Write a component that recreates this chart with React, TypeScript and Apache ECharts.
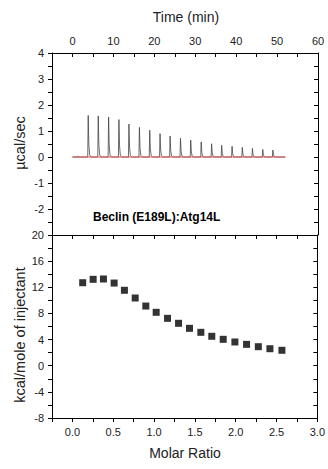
import React, { useEffect, useRef } from 'react';
import * as echarts from 'echarts';

// Raw ITC thermogram (top panel)
const injectionTimes = [1.3, 3.85, 6.3, 8.83, 11.35, 13.8, 16.36, 18.88, 21.4, 23.86, 26.4, 28.9, 31.46, 34.0, 36.46, 39.0, 41.5, 43.97, 46.5, 48.97];
const peakHeights = [0.03, 1.6, 1.58, 1.54, 1.44, 1.27, 1.14, 1.03, 0.9, 0.81, 0.72, 0.65, 0.58, 0.51, 0.45, 0.41, 0.37, 0.33, 0.29, 0.27];
// peak profile: [time offset (min), fraction of peak height]
const peakShape = [[-0.12, 0], [0, 1], [0.15, 0.3], [0.35, 0.05], [0.7, 0]];
const traceRange = [0, 52];
const baselineRange = [0, 52];

// Integrated heats (bottom panel)
const molarRatio = [0.126, 0.254, 0.38, 0.511, 0.637, 0.769, 0.899, 1.026, 1.165, 1.3, 1.434, 1.573, 1.707, 1.847, 1.99, 2.133, 2.277, 2.419, 2.566];
const enthalpy = [12.7, 13.22, 13.27, 12.65, 11.54, 10.36, 9.13, 8.17, 7.25, 6.49, 5.72, 5.11, 4.5, 4.04, 3.63, 3.27, 2.91, 2.6, 2.36];

const sampleLabel = 'Beclin (E189L):Atg14L';

const FONT = 'Liberation Sans, Arial, sans-serif';
const TXT = '#222';

export default function App() {
  const ref = useRef<HTMLDivElement>(null);
  useEffect(() => {
    if (!ref.current) return;
    const chart = echarts.init(ref.current, undefined, { renderer: 'svg' });

    const trace: number[][] = [[traceRange[0], 0]];
    injectionTimes.forEach((t, i) => {
      peakShape.forEach(([dt, f]) => trace.push([t + dt, peakHeights[i] * f]));
    });
    trace.push([traceRange[1], 0]);

    const axisLine = { show: true, onZero: false, lineStyle: { color: '#000', width: 1 } };
    const label = { color: TXT, fontFamily: FONT, fontSize: 11 };

    const option: any = {
      animation: false,
      backgroundColor: '#fff',
      grid: [
        { left: 52, right: 10, top: 53, height: 182 },
        { left: 52, right: 10, top: 235, height: 183 },
      ],
      xAxis: [
        {
          type: 'value', gridIndex: 0, position: 'top', min: -5, max: 60, interval: 5,
          axisLine, splitLine: { show: false },
          axisTick: { show: true, inside: true, length: 4, lineStyle: { color: '#000' } },
          axisLabel: { ...label, margin: 7, formatter: (v: number) => (v % 10 === 0 && v >= 0 ? String(v) : '') },
        },
        {
          type: 'value', gridIndex: 1, position: 'top', min: -0.25, max: 3, interval: 0.25,
          axisLine, splitLine: { show: false },
          axisTick: { show: true, inside: true, length: 4, lineStyle: { color: '#000' } },
          axisLabel: { show: false },
        },
        {
          type: 'value', gridIndex: 1, position: 'bottom', min: -0.25, max: 3, interval: 0.25,
          axisLine, splitLine: { show: false },
          axisTick: { show: true, inside: false, length: 4, lineStyle: { color: '#000' } },
          axisLabel: {
            ...label, margin: 8,
            formatter: (v: number) => (v >= 0 && Math.abs(v * 2 - Math.round(v * 2)) < 1e-6 ? v.toFixed(1) : ''),
          },
        },
      ],
      yAxis: [
        {
          type: 'value', gridIndex: 0, position: 'left', min: -3, max: 4, interval: 0.5,
          axisLine, splitLine: { show: false },
          axisTick: { show: true, inside: false, length: 4, lineStyle: { color: '#000' } },
          axisLabel: { ...label, margin: 8, formatter: (v: number) => (Number.isInteger(v) && v > -3 ? String(v) : '') },
        },
        {
          type: 'value', gridIndex: 0, position: 'right', min: -3, max: 4, interval: 0.5,
          axisLine, splitLine: { show: false },
          axisTick: { show: true, inside: true, length: 4, lineStyle: { color: '#000' } },
          axisLabel: { show: false },
        },
        {
          type: 'value', gridIndex: 1, position: 'left', min: -8, max: 20, interval: 2,
          axisLine, splitLine: { show: false },
          axisTick: { show: true, inside: false, length: 4, lineStyle: { color: '#000' } },
          axisLabel: { ...label, margin: 8, formatter: (v: number) => (v % 4 === 0 ? String(v) : '') },
        },
        {
          type: 'value', gridIndex: 1, position: 'right', min: -8, max: 20, interval: 2,
          axisLine, splitLine: { show: false },
          axisTick: { show: true, inside: true, length: 4, lineStyle: { color: '#000' } },
          axisLabel: { show: false },
        },
      ],
      series: [
        {
          type: 'line', xAxisIndex: 0, yAxisIndex: 0, data: trace, showSymbol: false, symbol: 'none',
          lineStyle: { color: '#444', width: 0.8 }, silent: true,
        },
        {
          type: 'line', xAxisIndex: 0, yAxisIndex: 0,
          data: [[baselineRange[0], 0], [baselineRange[1], 0]], symbol: 'none',
          lineStyle: { color: '#e05050', width: 1 }, silent: true,
        },
        {
          type: 'scatter', xAxisIndex: 2, yAxisIndex: 2,
          data: molarRatio.map((x, i) => [x, enthalpy[i]]),
          symbol: 'rect', symbolSize: 7, itemStyle: { color: '#000' },
        },
      ],
      graphic: [
        { type: 'text', x: 186, y: 17, style: { text: 'Time (min)', font: `14px ${FONT}`, fill: TXT, align: 'center', verticalAlign: 'middle' } },
        { type: 'text', x: 185, y: 453, style: { text: 'Molar Ratio', font: `14px ${FONT}`, fill: TXT, align: 'center', verticalAlign: 'middle' } },
        { type: 'text', x: 20, y: 143, rotation: Math.PI / 2, style: { text: 'µcal/sec', font: `14.5px ${FONT}`, fill: TXT, align: 'center', verticalAlign: 'middle' } },
        { type: 'text', x: 20, y: 335, rotation: Math.PI / 2, style: { text: 'kcal/mole of injectant', font: `14.5px ${FONT}`, fill: TXT, align: 'center', verticalAlign: 'middle' } },
        { type: 'text', x: 93, y: 217, style: { text: sampleLabel, font: `bold 12px ${FONT}`, fill: '#000', align: 'left', verticalAlign: 'middle' } },
      ],
    };
    chart.setOption(option);
    return () => chart.dispose();
  }, []);

  return (
    <div style={{ position: 'fixed', left: 0, top: 0, width: 328, height: 469, background: '#fff' }}>
      <div ref={ref} style={{ width: 328, height: 469 }} />
    </div>
  );
}
